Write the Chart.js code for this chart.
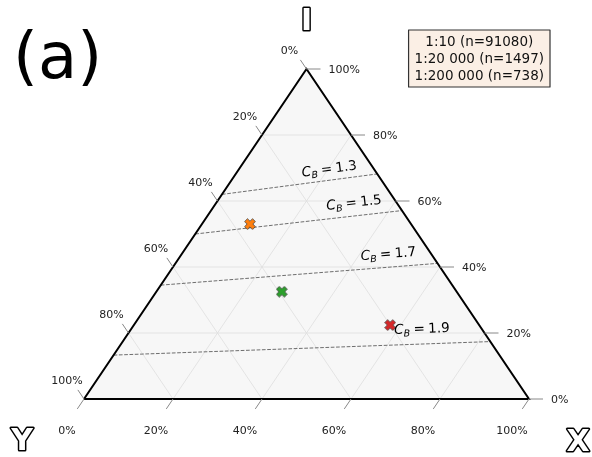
<!DOCTYPE html>
<html>
<head>
<meta charset="utf-8">
<script src="https://cdn.jsdelivr.net/npm/chart.js@4/dist/chart.umd.min.js"></script>
<style>
html, body { margin: 0; padding: 0; background: #fff; }
canvas { display: block; }
</style>
</head>
<body>
<canvas id="ternary" width="592" height="457"></canvas>
<script>
// series: ternary composition (X, Y, I), each sums to 1
var seriesLabels = ['1:10 (n=91080)', '1:20 000 (n=1497)', '1:200 000 (n=738)'];
var seriesX = [0.108, 0.282, 0.576];
var seriesY = [0.362, 0.393, 0.200];
var seriesI = [0.530, 0.325, 0.224];
var seriesColors = ['#ff7f0e', '#2ca02c', '#d62728'];

// C_B iso-lines, I value where they meet the left (X=0) and right (Y=0) edges
var cbValues = ['1.3', '1.5', '1.7', '1.9'];
var cbLeftI = [0.620, 0.500, 0.345, 0.133];
var cbRightI = [0.682, 0.571, 0.411, 0.174];

var tickValues = [0, 0.2, 0.4, 0.6, 0.8, 1.0];
var tickLabels = ['0%', '20%', '40%', '60%', '80%', '100%'];
var gridValues = [0.2, 0.4, 0.6, 0.8];

// where the C_B text sits along its line (fraction) and how far above it (px)
var cbLabelAt = [0.70, 0.775, 0.826, 0.82];
var cbLabelUp = [12, 14, 14, 16];

var FONT = '"DejaVu Sans", Verdana, sans-serif';

function toXY(x, y, i) {
   // Y = 1 - x - i, bottom-left is Y, bottom-right is X, top is I
   return { x: x + i / 2, y: i };
}

function xMarker(color) {
   var c = document.createElement('canvas');
   c.width = 12; c.height = 12;
   var g = c.getContext('2d');
   g.translate(6, 6);
   g.rotate(Math.PI / 4);
   var a = 5.6, w = 2.0;
   g.beginPath();
   g.moveTo(-w, -a); g.lineTo(w, -a); g.lineTo(w, -w); g.lineTo(a, -w);
   g.lineTo(a, w); g.lineTo(w, w); g.lineTo(w, a); g.lineTo(-w, a);
   g.lineTo(-w, w); g.lineTo(-a, w); g.lineTo(-a, -w); g.lineTo(-w, -w);
   g.closePath();
   g.fillStyle = color;
   g.fill();
   g.lineWidth = 0.7;
   g.strokeStyle = '#333';
   g.stroke();
   return c;
}

var datasets = [];

// data points
for (var k = 0; k < seriesLabels.length; k++) {
   datasets.push({
      label: seriesLabels[k],
      data: [toXY(seriesX[k], seriesY[k], seriesI[k])],
      pointStyle: xMarker(seriesColors[k]),
      pointRadius: 5,
      backgroundColor: seriesColors[k],
      order: 0,
      clip: false
   });
}

// triangle frame
datasets.push({
   label: 'frame',
   data: [toXY(0, 1, 0), toXY(1, 0, 0), toXY(0, 0, 1), toXY(0, 1, 0)],
   showLine: true,
   pointRadius: 0,
   borderColor: '#000',
   borderWidth: 2,
   borderJoinStyle: 'miter',
   order: 1,
   clip: false
});

// C_B dashed lines
for (var k = 0; k < cbValues.length; k++) {
   datasets.push({
      label: 'cb' + cbValues[k],
      data: [toXY(0, 1 - cbLeftI[k], cbLeftI[k]), toXY(1 - cbRightI[k], 0, cbRightI[k])],
      showLine: true,
      pointRadius: 0,
      borderColor: '#6e6e6e',
      borderWidth: 1,
      borderDash: [3.7, 1.6],
      order: 2,
      clip: false
   });
}

// grid
gridValues.forEach(function(v) {
   var segs = [
      [toXY(0, 1 - v, v), toXY(1 - v, 0, v)],
      [toXY(v, 1 - v, 0), toXY(v, 0, 1 - v)],
      [toXY(1 - v, v, 0), toXY(0, v, 1 - v)]
   ];
   segs.forEach(function(s) {
      datasets.push({
         label: 'grid',
         data: s,
         showLine: true,
         pointRadius: 0,
         borderColor: '#dedede',
         borderWidth: 0.8,
         order: 3,
         clip: false
      });
   });
});

function px(chart, p) {
   return { x: chart.scales.x.getPixelForValue(p.x), y: chart.scales.y.getPixelForValue(p.y) };
}

var ternaryPlugin = {
   id: 'ternary',
   beforeDatasetsDraw: function(chart) {
      var ctx = chart.ctx;
      var a = px(chart, toXY(0, 1, 0)), b = px(chart, toXY(1, 0, 0)), t = px(chart, toXY(0, 0, 1));
      ctx.save();
      ctx.fillStyle = '#f7f7f7';
      ctx.beginPath();
      ctx.moveTo(a.x, a.y); ctx.lineTo(b.x, b.y); ctx.lineTo(t.x, t.y);
      ctx.closePath();
      ctx.fill();
      ctx.restore();
   },
   afterDatasetsDraw: function(chart) {
      var ctx = chart.ctx;
      var bl = px(chart, toXY(0, 1, 0)), br = px(chart, toXY(1, 0, 0)), top = px(chart, toXY(0, 0, 1));
      ctx.save();

      // edge directions for slanted ticks
      var dl = { x: bl.x - top.x, y: bl.y - top.y };
      var ll = Math.hypot(dl.x, dl.y); dl.x /= ll; dl.y /= ll;
      var dr = { x: top.x - br.x, y: top.y - br.y };
      var lr = Math.hypot(dr.x, dr.y); dr.x /= lr; dr.y /= lr;

      ctx.strokeStyle = '#888';
      ctx.lineWidth = 1;
      ctx.fillStyle = '#222';
      ctx.font = '11px ' + FONT;
      ctx.textBaseline = 'middle';

      tickValues.forEach(function(v, n) {
         // I axis on the right edge
         var p = px(chart, toXY(1 - v, 0, v));
         ctx.beginPath(); ctx.moveTo(p.x, p.y); ctx.lineTo(p.x + 14, p.y); ctx.stroke();
         ctx.textAlign = 'left';
         ctx.fillText(tickLabels[n], p.x + 22, p.y + 1);

         // X axis on the bottom edge
         p = px(chart, toXY(v, 1 - v, 0));
         ctx.beginPath(); ctx.moveTo(p.x, p.y); ctx.lineTo(p.x + dl.x * 12, p.y + dl.y * 12); ctx.stroke();
         ctx.textAlign = 'center';
         ctx.fillText(tickLabels[n], p.x - 17, p.y + 32);

         // Y axis on the left edge
         p = px(chart, toXY(0, v, 1 - v));
         ctx.beginPath(); ctx.moveTo(p.x, p.y); ctx.lineTo(p.x + dr.x * 11, p.y + dr.y * 11); ctx.stroke();
         ctx.fillText(tickLabels[n], p.x - 17, p.y - 18);
      });

      // C_B labels
      cbValues.forEach(function(val, k) {
         var p0 = px(chart, toXY(0, 1 - cbLeftI[k], cbLeftI[k]));
         var p1 = px(chart, toXY(1 - cbRightI[k], 0, cbRightI[k]));
         var ang = Math.atan2(p1.y - p0.y, p1.x - p0.x);
         var f = cbLabelAt[k], up = cbLabelUp[k];
         var cx = p0.x + f * (p1.x - p0.x) + Math.sin(ang) * up;
         var cy = p0.y + f * (p1.y - p0.y) - Math.cos(ang) * up;
         ctx.save();
         ctx.translate(cx, cy);
         ctx.rotate(ang);
         ctx.fillStyle = '#000';
         ctx.textAlign = 'left';
         ctx.textBaseline = 'alphabetic';
         var fC = 'italic 13.5px ' + FONT, fB = 'italic 9.5px ' + FONT, fN = '13.5px ' + FONT;
         ctx.font = fC; var wC = ctx.measureText('C').width;
         ctx.font = fB; var wB = ctx.measureText('B').width;
         ctx.font = fN; var wE = ctx.measureText('=').width; var wV = ctx.measureText(val).width;
         var gap = 3.4;
         var total = wC + wB + gap + wE + gap + wV;
         var x = -total / 2, base = 4.9;
         ctx.font = fC; ctx.fillText('C', x, base); x += wC;
         ctx.font = fB; ctx.fillText('B', x, base + 2.8); x += wB + gap;
         ctx.font = fN; ctx.fillText('=', x, base); x += wE + gap;
         ctx.fillText(val, x, base);
         ctx.restore();
      });

      // outlined corner letters
      ctx.font = 'bold 30px ' + FONT;
      ctx.textAlign = 'center';
      ctx.textBaseline = 'alphabetic';
      ctx.lineJoin = 'round';
      [['I', top.x, top.y - 39], ['Y', bl.x - 62, bl.y + 51], ['X', br.x + 49, br.y + 52]].forEach(function(l) {
         ctx.lineWidth = 3;
         ctx.strokeStyle = '#000';
         ctx.strokeText(l[0], l[1], l[2]);
         ctx.fillStyle = '#fff';
         ctx.fillText(l[0], l[1], l[2]);
      });

      // panel label
      ctx.font = '64px ' + FONT;
      ctx.fillStyle = '#000';
      ctx.textAlign = 'left';
      ctx.fillText('(a)', 13, 78);

      // legend (text only)
      ctx.font = '13.5px ' + FONT;
      var maxW = 0;
      seriesLabels.forEach(function(s) { maxW = Math.max(maxW, ctx.measureText(s).width); });
      var bw = maxW + 12, bh = 57, bx = 550 - bw, by = 30;
      ctx.fillStyle = '#fbefe5';
      ctx.fillRect(bx, by, bw, bh);
      ctx.strokeStyle = '#333';
      ctx.lineWidth = 1.2;
      ctx.strokeRect(bx, by, bw, bh);
      ctx.fillStyle = '#111';
      ctx.textAlign = 'center';
      ctx.textBaseline = 'middle';
      seriesLabels.forEach(function(s, n) {
         ctx.fillText(s, bx + bw / 2, by + 12 + n * 17);
      });

      ctx.restore();
   }
};

new Chart(document.getElementById('ternary'), {
   type: 'scatter',
   data: { datasets: datasets },
   plugins: [ternaryPlugin],
   options: {
      responsive: false,
      animation: false,
      events: [],
      layout: {
         padding: { left: 84, right: 63, top: 69, bottom: 58 }
      },
      plugins: {
         legend: { display: false },
         tooltip: { enabled: false }
      },
      scales: {
         x: { type: 'linear', min: 0, max: 1, display: false },
         y: { type: 'linear', min: 0, max: 1, display: false }
      }
   }
});
</script>
</body>
</html>
